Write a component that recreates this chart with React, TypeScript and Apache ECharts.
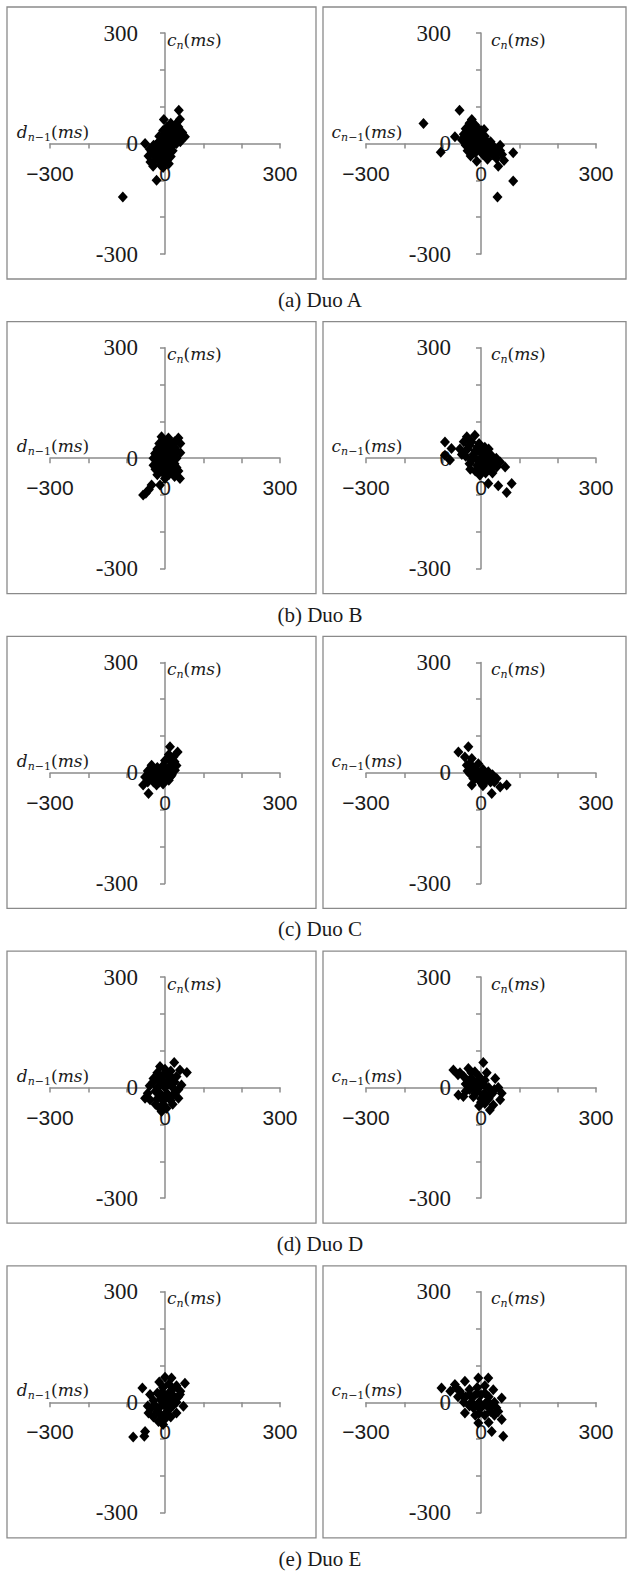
import React, { useEffect, useRef } from "react";
import * as echarts from "echarts";

// ---------- data (ms) ----------
const captions = ["(a) Duo A", "(b) Duo B", "(c) Duo C", "(d) Duo D", "(e) Duo E"];
const tickValues = [-300, 0, 300];
const xTickLabels = ["−300", "0", "300"];
const yTickLabels = ["-300", "0", "300"];
const axisMin = -300;
const axisMax = 300;
const axisStep = 100;

// left panels: x = d_{n-1}, y = c_n
const duoA_d: number[][] = [
  [36, 90], [-3, 65], [39, 66], [28, 52], [20, 40], [32, 38], [45, 30], [52, 18], [40, 15], [25, 25],
  [10, 30], [5, 45], [15, 55], [-5, 35], [0, 20], [10, 15], [20, 5], [30, 0], [40, 5], [-10, 10],
  [-20, 0], [-30, -5], [-52, 0], [-40, -15], [-25, -20], [-10, -10], [0, -5], [10, -15], [20, -20], [15, -35],
  [5, -30], [-5, -25], [-15, -35], [-30, -30], [-43, -34], [-38, -50], [-25, -45], [-10, -50], [0, -45], [-5, -65],
  [10, -55], [-31, -62], [-22, -100], [-110, -145], [15, 10], [25, 12], [-15, 20], [8, 0], [-5, 5], [30, 20],
  [12, -5], [-20, -15], [18, -8], [-12, -58], [5, 10], [15, 20], [-5, 15], [25, 35], [35, 45], [22, 28],
  [-15, -5], [-25, -5], [5, -15], [-5, -40], [-18, -28], [12, 40], [2, 30], [28, 8], [-35, -22],
];
const duoB_d: number[][] = [
  [-9, 58], [9, 55], [35, 55], [25, 45], [40, 40], [15, 40], [0, 45], [-15, 40], [-20, 25], [-26, 13],
  [-10, 20], [5, 25], [20, 25], [30, 20], [40, 15], [-30, 0], [-15, 5], [0, 5], [15, 5], [30, 0],
  [-30, -19], [-20, -10], [-5, -10], [10, -10], [25, -15], [-25, -30], [-10, -25], [5, -25], [20, -30], [35, -35],
  [-20, -45], [-5, -40], [10, -45], [39, -55], [25, -50], [-13, -73], [-35, -73], [-50, -95], [-57, -100], [-42, -85],
  [0, -55], [-8, -15], [12, 15], [-18, -5], [22, -5], [0, -2], [8, 35], [0, 30], [10, 20], [-10, 35],
  [20, 10], [-10, -5], [5, -20], [-15, -30], [15, -35], [0, -35], [-20, 15], [25, 30], [30, -25], [-5, 10],
];
const duoC_d: number[][] = [
  [13, 71], [33, 57], [22, 43], [10, 50], [0, 34], [25, 30], [-35, 21], [-20, 15], [-5, 20], [10, 15],
  [30, 20], [26, 7], [-45, 5], [-30, 0], [-13, 3], [5, 0], [18, -5], [-52, -11], [-35, -15], [-20, -10],
  [4, -11], [-10, -20], [10, -20], [-57, -33], [-22, -33], [-43, -56], [-5, -30], [-30, -25], [15, -10], [0, 10],
  [-10, -5], [20, 10], [-25, 5], [-40, -5], [0, -20], [-15, -25], [15, 30], [-45, -25],
];
const duoD_d: number[][] = [
  [24, 68], [57, 41], [39, 48], [-13, 57], [0, 50], [15, 45], [-20, 40], [-5, 35], [10, 30], [30, 30],
  [-30, 25], [-15, 20], [5, 15], [25, 15], [43, 7], [-30, 16], [-40, 5], [-20, 0], [0, 0], [20, 0],
  [35, -5], [-45, -15], [-17, -11], [5, -15], [25, -15], [-52, -29], [-39, -33], [-20, -30], [0, -30], [35, -29],
  [15, -35], [-25, -45], [-5, -45], [-9, -65], [4, -56], [-15, -55], [20, -45], [-10, 10], [10, 10], [-10, -20],
  [10, -25], [-25, -10], [-5, -35], [20, -20], [5, 40], [-10, 25], [20, 25],
];
const duoE_d: number[][] = [
  [-59, 39], [17, 66], [52, 52], [0, 68], [-83, -94], [-52, -79], [-54, -92], [-15, 55], [10, 50], [30, 45],
  [-5, 40], [20, 35], [40, 30], [-39, 21], [-20, 25], [0, 20], [20, 20], [39, 21], [-30, 5], [-10, 5],
  [10, 5], [30, 0], [48, -11], [-45, -10], [-25, -10], [0, -10], [20, -10], [-43, -29], [-20, -25], [5, -25],
  [30, -29], [-17, -52], [0, -45], [-30, -40], [15, -40], [-5, -60], [-10, 25], [10, 25], [-15, -15], [10, -20],
  [-10, 10], [25, 10], [-35, -15], [-10, -35], [35, 15], [5, 0],
];

// right panels: x = c_{n-1}, y = c_n
const duoA_c: number[][] = [
  [-150, 54], [-56, 90], [-105, -24], [-68, 18], [-24, 65], [-30, 55], [-15, 50], [8, 38], [-40, 40], [-45, 25],
  [-35, 20], [-20, 30], [-10, 20], [0, 25], [-50, 10], [-30, 5], [-15, 5], [0, 5], [10, 10], [20, 0],
  [-40, -5], [-25, -10], [-5, -10], [10, -5], [25, -10], [35, -15], [45, -20], [55, -30], [84, -25], [60, -46],
  [45, -62], [84, -102], [43, -145], [-27, -34], [-11, -48], [17, -43], [5, -30], [-15, -25], [30, -30], [40, -40],
  [-35, -20], [15, -20], [0, -20], [20, -25], [-5, 0], [-20, 15], [10, 20], [-30, 35], [-8, 40], [25, 5],
  [50, -5], [-20, 40], [-10, 30], [-25, 20], [5, 15], [15, 5], [30, -5], [-10, -5], [5, -15], [25, -20],
  [40, -30], [-20, -5], [0, 35], [-35, 10], [15, -35], [50, -20],
];
const duoB_c: number[][] = [
  [-94, 44], [-77, 26], [-94, 8], [-81, -5], [-37, 58], [-16, 62], [-45, 45], [-25, 45], [-5, 40], [10, 30],
  [20, 25], [-55, 25], [-35, 25], [-15, 20], [0, 15], [25, 10], [-40, 5], [-20, 0], [0, 0], [15, -5],
  [35, -5], [50, -10], [63, -24], [41, -24], [-30, -15], [-10, -20], [10, -20], [25, -30], [-15, -35], [-3, -46],
  [12, -40], [19, -69], [45, -75], [80, -69], [67, -93], [30, -40], [-50, 10], [5, -10], [-28, -30], [-5, 20],
  [40, 0], [-30, 35], [-10, 30], [-20, 10], [5, 5], [20, -10], [-10, -5], [0, -30], [15, -30], [-40, 20],
  [30, -15], [-25, -5], [10, 15],
];
const duoC_c: number[][] = [
  [-33, 71], [-59, 57], [-42, 43], [-24, 39], [-37, 21], [-20, 15], [-7, 25], [-29, -2], [-10, 5], [5, 10],
  [19, 3], [30, -5], [41, -15], [67, -33], [50, -38], [28, -56], [-24, -33], [2, -29], [15, -20], [-15, -15],
  [0, -10], [25, -25], [-35, 5], [-15, 0], [10, -5], [-5, -20], [20, -10], [-30, 25], [35, -25], [-20, -15],
  [5, -35],
];
const duoD_c: number[][] = [
  [6, 68], [-72, 48], [-55, 40], [-33, 52], [-16, 43], [-45, 30], [-25, 25], [-5, 30], [10, 20], [37, 25],
  [-40, 10], [-20, 5], [0, 5], [20, 0], [45, 0], [54, -15], [-30, -5], [-10, -10], [10, -15], [30, -15],
  [-59, -20], [-46, -24], [-20, -25], [0, -30], [20, -30], [50, -33], [10, -43], [32, -47], [23, -61], [-5, -50],
  [-60, 35], [15, 40], [-30, 20], [-10, 15], [10, 5], [-15, -15], [5, -20], [25, -20], [35, -5], [-40, -10],
  [-25, 40], [0, -40],
];
const duoE_c: number[][] = [
  [-103, 39], [-68, 48], [-42, 57], [-7, 66], [19, 66], [-80, 30], [-55, 30], [-30, 35], [-10, 40], [10, 45],
  [32, 34], [-60, 15], [-40, 15], [-20, 15], [0, 20], [20, 15], [54, 12], [-45, 0], [-25, 0], [-5, 0],
  [15, 0], [35, 0], [-42, -29], [-20, -15], [0, -15], [20, -15], [40, -15], [-7, -56], [28, -79], [58, -92],
  [54, -47], [10, -35], [35, -35], [-15, -35], [20, -55], [45, -25], [-50, 20], [-30, 20], [-10, 25], [10, 25],
  [-30, -10], [-10, -10], [10, -5], [25, -5], [-5, -30], [25, -25], [-65, 40],
];

const leftSets = [duoA_d, duoB_d, duoC_d, duoD_d, duoE_d];
const rightSets = [duoA_c, duoB_c, duoC_c, duoD_c, duoE_c];

// ---------- layout ----------
const W = 628;
const H = 1571;
const ROW_STEP = 314.7;
const GRID_TOP0 = 33;
const GRID_H = 221;
const GRID_W = 230;
const GRID_LEFT = [50, 366];
const BOX_X = [7, 323];
const BOX_W = [309, 303];
const AXIS_COLOR = "#8c8c8c";
const TEXT_COLOR = "#1a1a1a";
const MATH_FONT = "DejaVu Serif";
const SERIF_FONT = "'Liberation Serif', 'Times New Roman', serif";

const mathRich = {
  i: { fontFamily: MATH_FONT, fontStyle: "italic", fontSize: 17, lineHeight: 22, color: TEXT_COLOR },
  n: { fontFamily: MATH_FONT, fontSize: 17, lineHeight: 22, color: TEXT_COLOR },
  si: { fontFamily: MATH_FONT, fontStyle: "italic", fontSize: 11, lineHeight: 11, verticalAlign: "bottom", color: TEXT_COLOR },
  sn: { fontFamily: MATH_FONT, fontSize: 11, lineHeight: 11, verticalAlign: "bottom", color: TEXT_COLOR },
};

const nameCn = "{i|c}{si|n}{n|(}{i|ms}{n|)}";
const nameDn1 = "{i|d}{si|n}{sn|−1}{n|(}{i|ms}{n|)}";
const nameCn1 = "{i|c}{si|n}{sn|−1}{n|(}{i|ms}{n|)}";

function fmt(labels: string[]) {
  return (v: number) => {
    const k = tickValues.indexOf(Math.round(v));
    return k >= 0 ? labels[k] : "";
  };
}

function buildOption() {
  const grid: any[] = [];
  const xAxis: any[] = [];
  const yAxis: any[] = [];
  const series: any[] = [];
  const graphic: any[] = [];

  for (let r = 0; r < 5; r++) {
    const top = GRID_TOP0 + r * ROW_STEP;
    for (let c = 0; c < 2; c++) {
      const idx = r * 2 + c;
      grid.push({
        left: GRID_LEFT[c],
        top,
        width: GRID_W,
        height: GRID_H,
        containLabel: false,
        outerBoundsMode: "none",
      });
      xAxis.push({
        type: "value",
        gridIndex: idx,
        position: "bottom",
        offset: -GRID_H / 2,
        min: axisMin,
        max: axisMax,
        interval: axisStep,
        splitLine: { show: false },
        axisLine: { show: true, onZero: false, lineStyle: { color: AXIS_COLOR, width: 1.5 } },
        axisTick: { show: true, length: 5, lineStyle: { color: AXIS_COLOR, width: 1.5 } },
        axisLabel: {
          margin: 19,
          formatter: fmt(xTickLabels),
          fontFamily: "Liberation Sans",
          fontSize: 21,
          color: TEXT_COLOR,
          showMinLabel: true,
          showMaxLabel: true,
        },
        name: c === 0 ? nameDn1 : nameCn1,
        nameLocation: "start",
        nameGap: c === 0 ? -3 : -1,
        nameMoveOverlap: false,
        nameTextStyle: { align: "center", verticalAlign: "bottom", padding: [0, 0, 1, 0], rich: mathRich },
      });
      yAxis.push({
        type: "value",
        gridIndex: idx,
        position: "left",
        offset: -GRID_W / 2,
        min: axisMin,
        max: axisMax,
        interval: axisStep,
        splitLine: { show: false },
        axisLine: { show: true, onZero: false, lineStyle: { color: AXIS_COLOR, width: 1.5 } },
        axisTick: { show: true, length: 5, lineStyle: { color: AXIS_COLOR, width: 1.5 } },
        axisLabel: {
          margin: c === 0 ? 27 : 30,
          formatter: fmt(yTickLabels),
          fontFamily: SERIF_FONT,
          fontWeight: "normal",
          fontSize: 23,
          color: TEXT_COLOR,
          showMinLabel: true,
          showMaxLabel: true,
        },
        name: nameCn,
        nameLocation: "end",
        nameGap: -6.5,
        nameMoveOverlap: false,
        nameTextStyle: { align: "left", verticalAlign: "middle", padding: [0, 0, 0, c === 0 ? 2 : 10], rich: mathRich },
      });
      series.push({
        type: "scatter",
        xAxisIndex: idx,
        yAxisIndex: idx,
        data: c === 0 ? leftSets[r] : rightSets[r],
        symbol: "diamond",
        symbolSize: [10, 11],
        itemStyle: { color: "#000", opacity: 1 },
        z: 3,
      });
      graphic.push({
        type: "rect",
        silent: true,
        shape: { x: BOX_X[c], y: top - 26, width: BOX_W[c], height: 272 },
        style: { fill: "none", stroke: "#8a8a8a", lineWidth: 1.3 },
        z: 0,
      });
    }
    graphic.push({
      type: "text",
      silent: true,
      x: 320,
      y: top + 246 + 21,
      style: {
        text: captions[r],
        fontFamily: "Liberation Serif",
        fontSize: 21,
        fill: TEXT_COLOR,
        textAlign: "center",
        textVerticalAlign: "middle",
      },
    });
  }

  return {
    animation: false,
    backgroundColor: "#ffffff",
    grid,
    xAxis,
    yAxis,
    series,
    graphic,
  };
}

export default function App() {
  const ref = useRef<HTMLDivElement>(null);
  useEffect(() => {
    if (!ref.current) return;
    const chart = echarts.init(ref.current, undefined, { renderer: "svg" });
    chart.setOption(buildOption() as any);
    return () => chart.dispose();
  }, []);
  return (
    <div
      ref={ref}
      style={{ position: "absolute", left: 0, top: 0, width: W, height: H, background: "#fff" }}
    />
  );
}
